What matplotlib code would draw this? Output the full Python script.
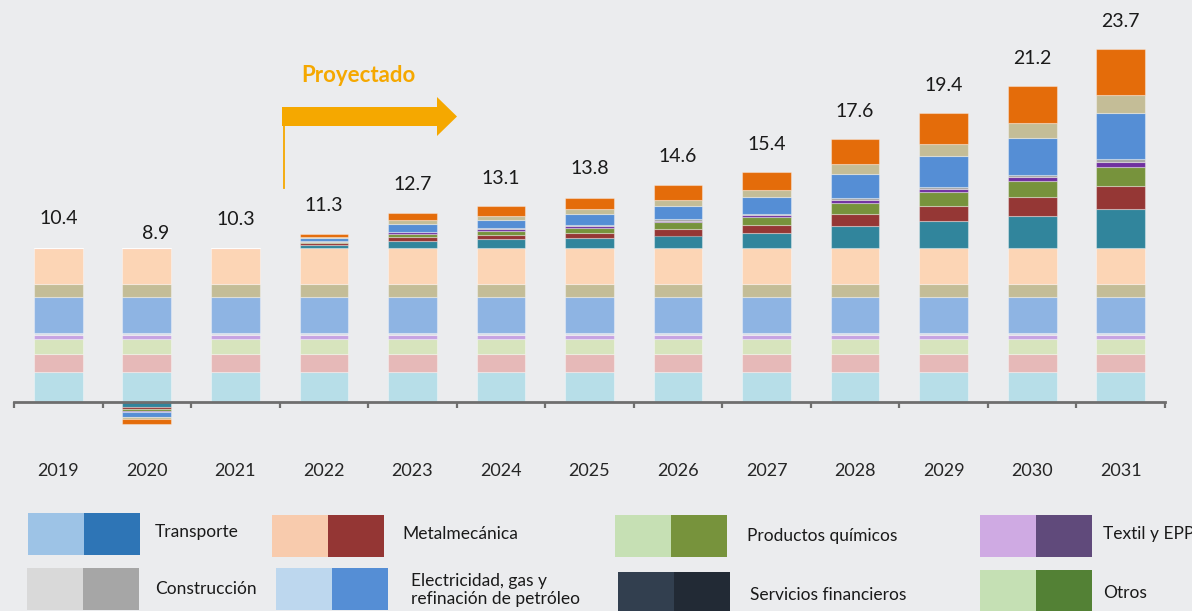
"""Stacked bars: base 2019 level plus projected increments by sector"""
import numpy as np
import matplotlib
matplotlib.use("Agg")
import matplotlib.pyplot as plt
from matplotlib.patches import Polygon, Rectangle

plt.rcParams["font.family"] = ["Lato", "DejaVu Sans"]

years = ["2019", "2020", "2021", "2022", "2023", "2024", "2025",
         "2026", "2027", "2028", "2029", "2030", "2031"]
totals = [10.4, 8.9, 10.3, 11.3, 12.7, 13.1, 13.8, 14.6, 15.4, 17.6, 19.4, 21.2, 23.7]

# base level (2019) of each stacked series, bottom to top
base = [2.05, 1.20, 1.01, 0.27, 0.16, 2.39, 0.90, 2.42]

# change vs base, one list per series (bottom to top), one value per year
inc_teal = [0, -0.34, 0, 0.20, 0.47, 0.59, 0.68, 0.85, 1.03, 1.49, 1.85, 2.20, 2.65]
inc_red = [0, -0.14, 0, 0.13, 0.27, 0.29, 0.36, 0.45, 0.54, 0.81, 0.99, 1.22, 1.55]
inc_olive = [0, -0.11, 0, 0.08, 0.23, 0.29, 0.34, 0.45, 0.56, 0.77, 0.97, 1.13, 1.30]
inc_purple = [0, -0.06, 0, 0.03, 0.09, 0.09, 0.10, 0.11, 0.09, 0.16, 0.20, 0.22, 0.32]
inc_grey = [0, -0.05, 0, 0.03, 0.05, 0.07, 0.08, 0.09, 0.11, 0.13, 0.11, 0.18, 0.20]
inc_blue = [0, -0.32, 0, 0.22, 0.54, 0.56, 0.77, 0.92, 1.15, 1.64, 2.09, 2.52, 3.13]
inc_tan = [0, -0.14, 0, 0.08, 0.23, 0.27, 0.29, 0.38, 0.45, 0.68, 0.83, 1.00, 1.17]
inc_orange = [0, -0.34, 0, 0.20, 0.50, 0.68, 0.79, 1.01, 1.19, 1.67, 2.10, 2.50, 3.10]
increments = [inc_teal, inc_red, inc_olive, inc_purple, inc_grey, inc_blue, inc_tan, inc_orange]

base_colors = ["#B7DEE8", "#E6B9B8", "#D7E4BD", "#C6A3E2", "#DCDDE6",
               "#8EB4E3", "#C4BD97", "#FCD5B5"]
inc_colors = ["#31859C", "#953735", "#77933C", "#7030A0", "#A6A6A6",
              "#558ED5", "#C4BD97", "#E46C0A"]

legend_names = ["Transporte", "Metalmecánica", "Productos químicos", "Textil y EPP",
                "Construcción", "Electricidad, gas y\nrefinación de petróleo",
                "Servicios financieros", "Otros"]
legend_light = ["#9DC3E6", "#F8CBAD", "#C6E0B4", "#CFAAE3",
                "#D9D9D9", "#BDD7EE", "#323F4F", "#C5E0B4"]
legend_dark = ["#2E75B6", "#943634", "#77933C", "#604A7B",
               "#A6A6A6", "#558ED5", "#222A35", "#538135"]

BG = "#EBECEE"
W, H = 1192, 611
PX = 14.8  # pixels per unit on the value axis


def fx(x):
    return x / W


def fy(y):
    return 1 - y / H


def plot_bars(ax):
    x = np.arange(len(years))
    edge = (1, 1, 1, 0.35)
    bottom = np.zeros(len(years))
    for val, col in zip(base, base_colors):
        ax.bar(x, [val] * len(years), 0.55, bottom=bottom, color=col,
               edgecolor=edge, linewidth=0.8)
        bottom = bottom + val
    top = bottom.copy()
    neg = np.zeros(len(years))
    for inc, col in zip(increments, inc_colors):
        inc = np.array(inc, dtype=float)
        pos = np.where(inc > 0, inc, 0)
        ng = np.where(inc < 0, inc, 0)
        ax.bar(x, pos, 0.55, bottom=top, color=col, edgecolor=edge, linewidth=0.8)
        ax.bar(x, ng, 0.55, bottom=neg, color=col, edgecolor=edge, linewidth=0.8)
        top = top + pos
        neg = neg + ng
    for i, t in enumerate(totals):
        dx, dy = (0.1, 2.5) if t < 10 else (0, 2.0)
        ax.text(i + dx, t + dy, f"{t}", ha="center", va="center",
                fontsize=14, color="#1A1A1A")


def plot_chart():
    fig = plt.figure(figsize=(W / 100, H / 100), dpi=100, facecolor=BG)
    ax = fig.add_axes([fx(14), fy(430), 1151 / W, 430 / H], facecolor=BG)
    plot_bars(ax)

    ax.set_xlim(-0.5, 12.5)
    ax.set_ylim(-28 / PX, 402 / PX)
    for s in ["top", "left", "right"]:
        ax.spines[s].set_visible(False)
    ax.spines["bottom"].set_position(("data", 0))
    ax.spines["bottom"].set_color("#6E6E6E")
    ax.spines["bottom"].set_linewidth(2)
    ax.set_yticks([])
    ax.set_xticks(np.arange(len(years)), years)
    ax.set_xticks(np.arange(-0.5, 13, 1), minor=True)
    ax.tick_params(axis="x", which="major", length=0, pad=44,
                   labelsize=13, labelcolor="#262626")
    ax.tick_params(axis="x", which="minor", length=4, width=1.6,
                   color="#6E6E6E", direction="out")

    # "Proyectado" arrow
    orange = "#F5A800"
    arrow = [(282, 107), (437, 107), (437, 97), (457, 116.5),
             (437, 136), (437, 126), (282, 126)]
    fig.patches.append(Polygon([(fx(a), fy(b)) for a, b in arrow], closed=True,
                               transform=fig.transFigure, color=orange, lw=0))
    fig.add_artist(plt.Line2D([fx(283.5), fx(283.5)], [fy(110), fy(188)],
                              transform=fig.transFigure, color=orange, lw=1.3))
    fig.text(fx(358), fy(75), "Proyectado", ha="center", va="center",
             fontsize=16, fontweight="bold", color=orange)

    # legend drawn as swatch pairs
    sw_x = [28, 272, 615, 980, 27, 276, 618, 980]
    sw_y = [513, 515, 515, 515, 568, 568, 572, 570]
    tx_x = [155, 402, 747, 1103, 155, 411, 750, 1103]
    tx_y = [532, 534, 536, 534, 589, 590, 595, 593]
    for i, name in enumerate(legend_names):
        h = min(42, H - sw_y[i])
        for k, col in enumerate([legend_light[i], legend_dark[i]]):
            fig.patches.append(Rectangle((fx(sw_x[i] + 56 * k), fy(sw_y[i] + h)),
                                         56 / W, h / H, transform=fig.transFigure,
                                         color=col, lw=0))
        fig.text(fx(tx_x[i]), fy(tx_y[i]), name, ha="left", va="center",
                 fontsize=12.5, color="#1A1A1A", linespacing=1.2)

    fig.savefig("out.png", dpi=100, facecolor=BG)


if __name__ == "__main__":
    plot_chart()
